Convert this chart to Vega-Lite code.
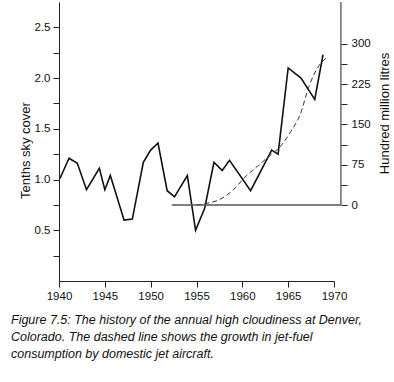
{
  "$schema": "https://vega.github.io/schema/vega-lite/v6.json",
  "width": 275,
  "height": 279,
  "autosize": {"type": "none"},
  "padding": {"left": 59, "top": 2, "right": 60, "bottom": 101},
  "config": {
    "view": {"stroke": null},
    "font": "Liberation Sans",
    "axis": {
      "domainColor": "#222",
      "tickColor": "#222",
      "labelColor": "#111",
      "titleColor": "#111",
      "labelFont": "Liberation Sans",
      "titleFont": "Liberation Sans",
      "titleFontWeight": "normal",
      "grid": false,
      "labelFontSize": 11.5,
      "titleFontSize": 13,
      "tickSize": 6
    }
  },
  "title": {
    "text": [
      "Figure 7.5: The history of the annual high cloudiness at Denver,",
      "Colorado. The dashed line shows the growth in jet-fuel",
      "consumption by domestic jet aircraft."
    ],
    "orient": "bottom",
    "anchor": "start",
    "frame": "group",
    "dx": -48,
    "offset": 12,
    "fontSize": 12.5,
    "fontStyle": "italic",
    "fontWeight": "normal",
    "font": "Liberation Sans",
    "color": "#111",
    "lineHeight": 17
  },
  "datasets": {
    "cloud": [
      {"year": 1940.1, "cover": 1.01},
      {"year": 1941.1, "cover": 1.21},
      {"year": 1942.0, "cover": 1.16},
      {"year": 1943.0, "cover": 0.90},
      {"year": 1944.4, "cover": 1.11},
      {"year": 1945.0, "cover": 0.90},
      {"year": 1945.6, "cover": 1.04},
      {"year": 1947.1, "cover": 0.60},
      {"year": 1948.0, "cover": 0.61},
      {"year": 1949.2, "cover": 1.17},
      {"year": 1950.0, "cover": 1.29},
      {"year": 1950.8, "cover": 1.36},
      {"year": 1951.8, "cover": 0.89},
      {"year": 1952.6, "cover": 0.83},
      {"year": 1954.0, "cover": 1.04},
      {"year": 1954.9, "cover": 0.50},
      {"year": 1955.9, "cover": 0.72},
      {"year": 1956.9, "cover": 1.17},
      {"year": 1957.8, "cover": 1.09},
      {"year": 1958.6, "cover": 1.19},
      {"year": 1960.9, "cover": 0.89},
      {"year": 1963.2, "cover": 1.29},
      {"year": 1963.9, "cover": 1.25},
      {"year": 1965.0, "cover": 2.10},
      {"year": 1966.4, "cover": 2.00},
      {"year": 1967.9, "cover": 1.79},
      {"year": 1968.8, "cover": 2.23}
    ],
    "fuel": [
      {"year": 1955.0, "fuel": 0},
      {"year": 1956.1, "fuel": 3},
      {"year": 1957.5, "fuel": 10},
      {"year": 1959.0, "fuel": 28},
      {"year": 1960.3, "fuel": 52},
      {"year": 1961.5, "fuel": 70},
      {"year": 1962.8, "fuel": 89},
      {"year": 1964.3, "fuel": 112},
      {"year": 1965.3, "fuel": 137},
      {"year": 1966.3, "fuel": 168},
      {"year": 1967.3, "fuel": 222},
      {"year": 1968.2, "fuel": 255},
      {"year": 1969.3, "fuel": 275}
    ],
    "base": [{"year": 1952.3, "year2": 1970.76, "fuel": 0}],
    "raxis": [{"year": 1970.76, "fuel": 0, "fuel2": 377.5}]
  },
  "layer": [
    {
      "data": {"name": "cloud"},
      "mark": {"type": "line", "color": "#111", "strokeWidth": 1.6},
      "encoding": {
        "x": {
          "field": "year",
          "type": "quantitative",
          "scale": {"domain": [1940, 1970], "nice": false, "zero": false},
          "axis": {
            "title": null,
            "values": [1940, 1945, 1950, 1955, 1960, 1965, 1970],
            "format": "d",
            "labelFlush": false,
            "labelPadding": 3
          }
        },
        "y": {
          "field": "cover",
          "type": "quantitative",
          "scale": {"domain": [0, 2.75], "nice": false},
          "axis": {
            "orient": "left",
            "title": "Tenths sky cover",
            "values": [0.25, 0.5, 0.75, 1, 1.25, 1.5, 1.75, 2, 2.25, 2.5],
            "labelExpr": "(datum.value * 2) % 1 == 0 ? format(datum.value, '.1f') : ''",
            "labelPadding": 3,
            "titleX": -34,
            "titleY": 148,
            "titleBaseline": "middle"
          }
        }
      }
    },
    {
      "encoding": {
        "y": {
          "field": "fuel",
          "type": "quantitative",
          "scale": {"domain": [-141.3, 377.5], "nice": false, "zero": false},
          "axis": {
            "orient": "right",
            "offset": 7,
            "domain": false,
            "title": "Hundred million litres",
            "values": [0, 37.5, 75, 112.5, 150, 187.5, 225, 262.5, 300],
            "labelExpr": "datum.value % 75 == 0 ? format(datum.value, 'd') : ''",
            "labelPadding": 4,
            "titleAngle": 270,
            "titleX": 43,
            "titleY": 111,
            "titleBaseline": "middle"
          }
        }
      },
      "layer": [
        {
          "data": {"name": "fuel"},
          "mark": {"type": "line", "color": "#333", "strokeWidth": 1, "strokeDash": [5, 3], "interpolate": "monotone"},
          "encoding": {
            "x": {"field": "year", "type": "quantitative"}
          }
        },
        {
          "data": {"name": "base"},
          "mark": {"type": "rule", "color": "#555", "strokeWidth": 1.5},
          "encoding": {
            "x": {"field": "year", "type": "quantitative"},
            "x2": {"field": "year2"}
          }
        },
        {
          "data": {"name": "raxis"},
          "mark": {"type": "rule", "color": "#222", "strokeWidth": 1},
          "encoding": {
            "x": {"field": "year", "type": "quantitative"},
            "y2": {"field": "fuel2"}
          }
        }
      ]
    }
  ],
  "resolve": {"scale": {"y": "independent"}, "axis": {"y": "independent"}}
}
